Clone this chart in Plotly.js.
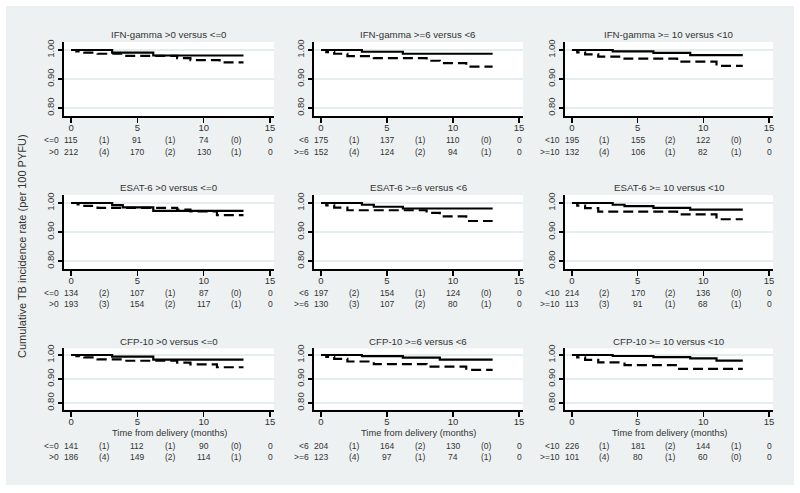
<!DOCTYPE html>
<html><head><meta charset="utf-8">
<script src="https://cdn.plot.ly/plotly-3.0.1.min.js"></script>
<style>html,body{margin:0;padding:0;background:#fff}#chart{width:800px;height:493px}</style>
</head><body><div id="chart"></div>
<script>
// ---------- data ----------
const panelTitles = [
  "IFN-gamma >0 versus <=0", "IFN-gamma >=6 versus <6", "IFN-gamma >= 10 versus <10",
  "ESAT-6 >0 versus <=0", "ESAT-6 >=6 versus <6", "ESAT-6 >= 10 versus <10",
  "CFP-10 >0 versus <=0", "CFP-10 >=6 versus <6", "CFP-10 >= 10 versus <10"
];
const solidLabels  = ["<=0", "<6", "<10"];
const dashedLabels = [">0", ">=6", ">=10"];
const xTicks = [0, 5, 10, 15];
const yTicks = [0.80, 0.90, 1.00];
const yTickText = ["0.80", "0.90", "1.00"];
const riskTimes = [0, 2.5, 5, 7.5, 10, 12.5, 15];
const riskSolid = [
  ["115","(1)","91","(1)","74","(0)","0"],
  ["175","(1)","137","(1)","110","(0)","0"],
  ["195","(1)","155","(2)","122","(0)","0"],
  ["134","(2)","107","(1)","87","(0)","0"],
  ["197","(2)","154","(1)","124","(0)","0"],
  ["214","(2)","170","(2)","136","(0)","0"],
  ["141","(1)","112","(1)","90","(0)","0"],
  ["204","(1)","164","(2)","130","(0)","0"],
  ["226","(1)","181","(2)","144","(1)","0"]
];
const riskDashed = [
  ["212","(4)","170","(2)","130","(1)","0"],
  ["152","(4)","124","(2)","94","(1)","0"],
  ["132","(4)","106","(1)","82","(1)","0"],
  ["193","(3)","154","(2)","117","(1)","0"],
  ["130","(3)","107","(2)","80","(1)","0"],
  ["113","(3)","91","(1)","68","(1)","0"],
  ["186","(4)","149","(2)","114","(1)","0"],
  ["123","(4)","97","(1)","74","(1)","0"],
  ["101","(4)","80","(1)","60","(0)","0"]
];
// Kaplan-Meier step curves (time, cumulative value)
const solidT = [
  [0,3.1,6.2,13],
  [0,3.1,6.2,13],
  [0,3.1,6.2,9.0,13],
  [0,3.1,3.9,6.2,13],
  [0,3.1,4.0,6.2,13],
  [0,3.1,4.0,6.2,9.0,13],
  [0,3.1,6.2,13],
  [0,3.1,6.2,9.0,13],
  [0,3.1,6.2,9.0,11.0,13]
];
const solidS = [
  [1,0.991,0.981,0.981],
  [1,0.994,0.987,0.987],
  [1,0.995,0.990,0.982,0.982],
  [1,0.993,0.985,0.973,0.973],
  [1,0.994,0.987,0.981,0.981],
  [1,0.994,0.989,0.983,0.977,0.977],
  [1,0.993,0.981,0.981],
  [1,0.995,0.989,0.981,0.981],
  [1,0.996,0.991,0.986,0.977,0.977]
];
const dashT = [
  [0,0.4,1.0,2.0,4.0,8.0,9.0,11.2,13],
  [0,0.4,1.0,2.0,4.0,8.0,9.0,11.0,13],
  [0,0.4,1.0,2.0,4.0,8.0,11.0,13],
  [0,0.5,1.0,2.0,8.0,9.0,11.0,13],
  [0,0.4,1.0,2.0,8.0,9.0,11.0,13],
  [0,0.4,1.0,2.0,8.0,11.0,13],
  [0,0.4,1.0,2.0,4.0,8.0,9.0,11.0,13],
  [0,0.4,1.0,2.0,4.0,8.0,11.0,13],
  [0,0.4,1.0,2.0,4.0,8.0,13]
];
const dashS = [
  [1,0.995,0.991,0.987,0.980,0.972,0.965,0.957,0.957],
  [1,0.993,0.987,0.979,0.972,0.963,0.955,0.943,0.943],
  [1,0.992,0.985,0.977,0.970,0.960,0.945,0.945],
  [1,0.995,0.990,0.983,0.977,0.971,0.958,0.958],
  [1,0.992,0.984,0.975,0.966,0.954,0.938,0.938],
  [1,0.991,0.982,0.970,0.961,0.944,0.944],
  [1,0.995,0.990,0.982,0.976,0.968,0.961,0.949,0.949],
  [1,0.992,0.984,0.973,0.962,0.952,0.938,0.938],
  [1,0.990,0.980,0.969,0.958,0.942,0.942]
];
const yTitle = "Cumulative TB incidence rate (per 100 PYFU)";
const xTitle = "Time from delivery (months)";

// ---------- layout geometry ----------
const W = 800, H = 493;
const FONT = "Liberation Sans, Arial, Helvetica, sans-serif";
const XR = [-0.53, 15.3];
const colPx = [[64,274],[314,523],[565,773]];
const rowPx = [[42,116],[195,269],[348.4,409.6]];
const titleY = [35, 188, 341];
const riskY = [[140,151.5],[292.5,304],[446,457]];
const px2x = p => p / W;
const py2y = p => 1 - p / H;

const traces = [];
const layout = {
  width: W, height: H,
  margin: {l:0, r:0, t:0, b:0},
  paper_bgcolor: "#edf1f2",
  plot_bgcolor: "#ffffff",
  showlegend: false,
  font: {family: FONT, color: "#333", size: 9},
  annotations: [],
  shapes: [
    {type:"rect", xref:"paper", yref:"paper", x0:0, x1:1, y0:py2y(6), y1:1, fillcolor:"#fff", line:{width:0}, layer:"below"},
    {type:"rect", xref:"paper", yref:"paper", x0:0, x1:1, y0:0, y1:py2y(485), fillcolor:"#fff", line:{width:0}, layer:"below"},
    {type:"rect", xref:"paper", yref:"paper", x0:0, x1:px2x(6), y0:0, y1:1, fillcolor:"#fff", line:{width:0}, layer:"below"},
    {type:"rect", xref:"paper", yref:"paper", x0:px2x(794), x1:1, y0:0, y1:1, fillcolor:"#fff", line:{width:0}, layer:"below"}
  ]
};

for (let i = 0; i < 9; i++) {
  const r = Math.floor(i / 3), c = i % 3;
  const n = i + 1;
  const xa = "x" + (n === 1 ? "" : n), ya = "y" + (n === 1 ? "" : n);
  const xk = "xaxis" + (n === 1 ? "" : n), yk = "yaxis" + (n === 1 ? "" : n);
  layout[xk] = {
    domain: [px2x(colPx[c][0]), px2x(colPx[c][1])],
    anchor: ya, range: XR,
    tickvals: xTicks, ticktext: xTicks.map(String),
    ticks: "outside", ticklen: 5, tickwidth: 1.5, tickcolor: "#000",
    ticklabelstandoff: -3,
    showline: true, linewidth: 2, linecolor: "#000",
    showgrid: false, zeroline: false, fixedrange: true,
    tickfont: {family: FONT, size: 9.5, color: "#333"}
  };
  layout[yk] = {
    domain: [py2y(rowPx[r][1]), py2y(rowPx[r][0])],
    anchor: xa, range: [0.7724, 1.0276],
    tickvals: yTicks, ticktext: yTickText, tickangle: -90,
    ticks: "outside", ticklen: 4, tickwidth: 1.5, tickcolor: "#000",
    showline: true, linewidth: 2, linecolor: "#000",
    showgrid: true, gridcolor: "#e6edee", gridwidth: 1.5,
    zeroline: false, fixedrange: true,
    tickfont: {family: FONT, size: 9.5, color: "#333"}
  };
  traces.push({x: solidT[i], y: solidS[i], xaxis: xa, yaxis: ya, type: "scatter", mode: "lines",
    line: {shape: "hv", color: "#000", width: 2.2}, hoverinfo: "skip"});
  traces.push({x: dashT[i], y: dashS[i], xaxis: xa, yaxis: ya, type: "scatter", mode: "lines",
    line: {shape: "hv", color: "#000", width: 2.2, dash: "10px,5px"}, hoverinfo: "skip"});

  layout.annotations.push({
    text: panelTitles[i], xref: "paper", yref: "paper",
    x: px2x((colPx[c][0] + colPx[c][1]) / 2), y: py2y(titleY[r]),
    xanchor: "center", yanchor: "middle", showarrow: false,
    font: {family: FONT, size: 9.7, color: "#333"}
  });
  // risk table
  const pxPerUnit = (colPx[c][1] - colPx[c][0]) / (XR[1] - XR[0]);
  const labelPx = colPx[c][0] + (-0.75 - XR[0]) * pxPerUnit;
  const rows = [[solidLabels[c], riskSolid[i]], [dashedLabels[c], riskDashed[i]]];
  rows.forEach((row, k) => {
    layout.annotations.push({
      text: row[0], xref: "paper", yref: "paper", x: px2x(labelPx), y: py2y(riskY[r][k]),
      xanchor: "right", yanchor: "middle", showarrow: false,
      font: {family: FONT, size: 8.5, color: "#333"}
    });
    riskTimes.forEach((t, j) => {
      layout.annotations.push({
        text: row[1][j], xref: xa, yref: "paper", x: t, y: py2y(riskY[r][k]),
        xanchor: "center", yanchor: "middle", showarrow: false,
        font: {family: FONT, size: 8.5, color: "#333"}
      });
    });
  });
  if (r === 2) {
    layout.annotations.push({
      text: xTitle, xref: "paper", yref: "paper",
      x: px2x((colPx[c][0] + colPx[c][1]) / 2), y: py2y(433),
      xanchor: "center", yanchor: "middle", showarrow: false,
      font: {family: FONT, size: 9.3, color: "#333"}
    });
  }
}
layout.annotations.push({
  text: yTitle, xref: "paper", yref: "paper", x: px2x(22), y: py2y(246),
  xanchor: "center", yanchor: "middle", textangle: -90, showarrow: false,
  font: {family: FONT, size: 11, color: "#333"}
});

Plotly.newPlot("chart", traces, layout, {staticPlot: true, displayModeBar: false});
</script>
</body></html>
